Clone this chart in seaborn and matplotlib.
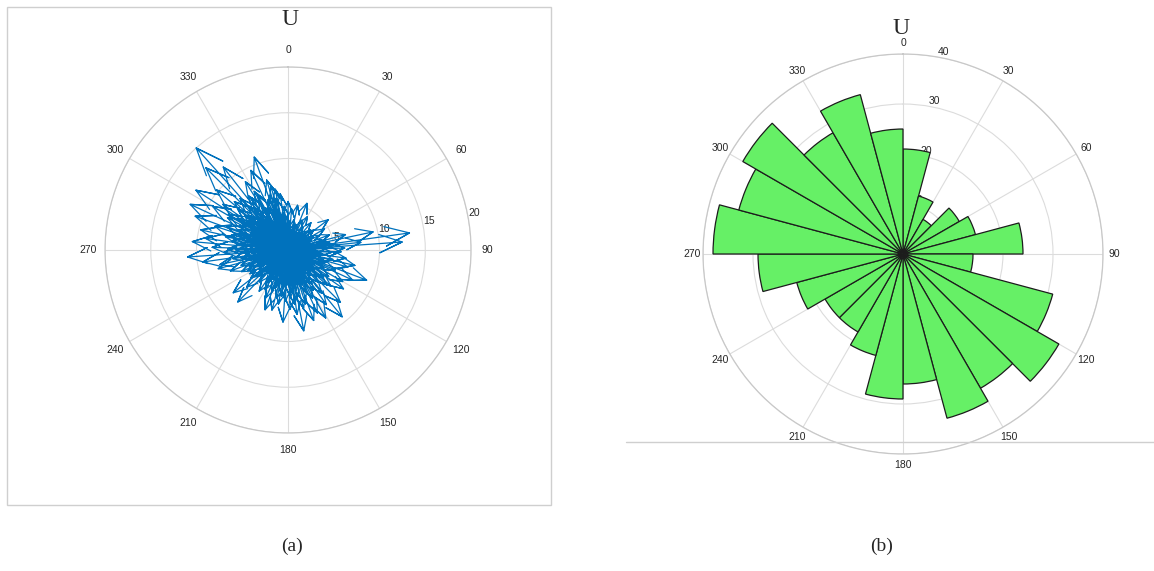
import numpy as np
import matplotlib
matplotlib.use("Agg")
import matplotlib.pyplot as plt
import seaborn as sns
from matplotlib.patches import Rectangle
from matplotlib.lines import Line2D

sns.set_style("white")
plt.rcParams['font.family'] = ['Liberation Sans', 'DejaVu Sans']

# (a) compass plot: direction (deg, clockwise from north) and magnitude of each arrow
arrow_dir = [318, 315, 340, 328, 343, 303, 295, 275, 266, 283, 232, 224, 201, 184, 169, 151,
             141, 111, 106, 22, 0, 53, 82, 86,
             310, 322, 300, 290, 305, 312, 330, 335, 348, 352, 345, 325, 298, 288, 278, 272,
             262, 258, 268, 285, 308, 318, 338, 355, 5, 12, 30, 40, 60, 70, 75, 78,
             84, 88, 92, 98, 103, 115, 120, 125, 130, 135, 145, 155, 160, 165, 172, 178,
             190, 195, 205, 210, 215, 228, 238, 245, 250, 255,
             2, 15, 25, 35, 48, 58, 65, 72, 80, 95, 100, 108, 118, 128, 138, 148,
             158, 163, 170, 175, 182, 188, 198, 203, 212, 220, 230, 236, 242, 248, 253, 260,
             265, 270, 276, 280, 287, 292, 296, 302, 306, 314, 320, 327, 332, 337, 342, 350,
             357, 8, 20, 44, 55, 85, 112, 133, 150, 167, 185, 208, 225, 251, 273, 299,
             316, 333, 348, 10, 90, 180, 270, 300, 120, 200, 240, 330]
arrow_mag = [15.0, 12.7, 10.8, 8.8, 8.0, 12.0, 11.8, 10.5, 11.0, 9.8, 7.6, 7.9, 7.0, 7.9, 9.0, 8.5,
             9.4, 9.2, 6.8, 5.5, 5.3, 5.5, 13.4, 12.5,
             10.2, 11.5, 9.5, 10.8, 8.7, 7.9, 7.4, 9.6, 6.8, 6.2, 7.2, 6.9, 7.5, 8.4, 9.1, 8.3,
             9.4, 7.6, 7.0, 6.4, 6.0, 6.5, 5.9, 4.8, 4.5, 5.0, 4.2, 3.9, 4.6, 4.8, 6.5, 9.5,
             8.0, 6.2, 5.8, 6.4, 7.5, 7.8, 6.9, 7.4, 6.1, 8.1, 7.3, 7.6, 8.2, 6.6, 7.1, 6.5,
             6.0, 6.8, 5.8, 5.0, 5.5, 6.1, 4.9, 5.6, 6.7, 7.9,
             3.1, 2.4, 3.6, 2.0, 3.3, 2.7, 3.8, 2.2, 4.1, 3.5, 2.6, 4.4, 3.0, 4.9, 3.7, 5.2,
             4.1, 3.0, 5.5, 4.6, 3.8, 5.1, 4.3, 3.2, 4.0, 3.4, 4.5, 2.8, 3.9, 4.6, 3.1, 5.2,
             4.0, 5.7, 4.4, 6.1, 5.0, 5.9, 4.2, 6.3, 5.1, 4.6, 5.4, 4.3, 5.2, 3.8, 4.9, 3.5,
             2.9, 2.0, 1.6, 1.8, 1.2, 1.9, 1.5, 2.2, 2.8, 2.4, 2.9, 2.1, 2.6, 2.3, 3.3, 3.6,
             3.0, 2.7, 2.2, 1.1, 1.0, 1.4, 1.8, 2.0, 1.7, 1.2, 1.5, 1.3]

# (a) the dense core of short arrows
core_dir = [3, 11, 18, 27, 33, 38, 46, 52, 57, 63, 68, 74, 79, 83, 87, 93,
            97, 102, 107, 113, 117, 123, 127, 132, 137, 142, 147, 153, 157, 162, 168, 173,
            177, 183, 187, 193, 197, 202, 207, 213, 217, 222, 227, 233, 237, 243, 247, 252,
            257, 261, 267, 271, 277, 282, 286, 291, 297, 301, 304, 309, 311, 317, 321, 324,
            329, 331, 336, 341, 344, 347, 353, 358, 289, 294, 307, 313, 319, 326, 339, 281,
            263, 274, 143, 156, 166, 176, 186, 126, 116, 105]
core_mag = [2.6, 3.4, 2.9, 2.1, 3.0, 2.5, 2.8, 3.6, 2.3, 3.1, 2.7, 3.9, 4.6, 5.1, 4.3, 4.8,
            3.9, 5.0, 4.1, 5.6, 4.4, 5.3, 3.6, 5.7, 4.8, 6.0, 4.4, 5.9, 4.9, 6.2, 4.5, 6.0,
            5.2, 5.6, 4.2, 5.4, 3.9, 4.8, 3.6, 4.4, 3.2, 4.7, 3.5, 5.1, 3.8, 4.9, 3.6, 5.4,
            4.5, 6.1, 5.0, 6.6, 5.3, 7.0, 5.6, 7.2, 5.9, 7.6, 5.4, 7.1, 5.8, 7.7, 6.0, 7.3,
            5.6, 6.8, 5.1, 6.3, 4.7, 5.8, 4.1, 3.7, 3.9, 4.5, 3.7, 4.3, 3.6, 4.1, 3.3, 3.5,
            3.0, 2.6, 3.2, 3.5, 3.9, 3.3, 3.8, 2.9, 3.1, 2.7]

# (a) very short arrows filling the centre blob
inner_dir = [0, 7, 14, 21, 29, 36, 43, 50, 58, 66, 73, 81, 89, 96, 104, 111,
             119, 126, 134, 141, 149, 156, 164, 171, 179, 186, 194, 201, 209, 216, 224, 231,
             239, 246, 254, 261, 269, 276, 284, 291, 299, 306, 314, 321, 329, 336, 344, 351,
             4, 32, 61, 92, 122, 152, 181, 212, 242, 272, 302, 332]
inner_mag = [2.3, 1.9, 2.6, 1.4, 2.1, 1.7, 2.4, 1.2, 1.9, 2.5, 1.6, 2.8, 3.0, 2.2, 3.1, 2.6,
             3.3, 2.4, 3.4, 2.9, 3.6, 2.7, 3.5, 3.1, 3.8, 2.8, 3.4, 2.6, 3.0, 2.5, 3.2, 2.3,
             3.1, 2.9, 3.6, 3.3, 4.0, 3.5, 4.2, 3.7, 4.4, 3.9, 4.3, 3.6, 4.0, 3.2, 3.3, 2.8,
             1.0, 1.3, 1.1, 1.6, 1.4, 1.8, 1.5, 1.2, 1.7, 2.0, 2.2, 1.9]

# (b) rose diagram: counts in 15 degree bins, starting at north, clockwise
rose_counts = [21, 12, 8, 13, 15, 24, 14, 31, 36, 31, 34, 26,
               29, 21, 18, 18, 22, 29, 38, 34, 37, 28, 33, 25]
bin_width = 15

theta_ticks = list(range(0, 360, 30))
theta_labels = [str(t) for t in theta_ticks]

blue = "#0072BD"
green = "#66F066"
grid_col = "#dcdcdc"
txt_col = "#262626"


def compass_path(dirs, mags):
    # each arrow: origin -> tip -> barb, tip -> other barb (MATLAB compass style)
    th, rr = [], []
    for d, m in zip(dirs, mags):
        a = np.deg2rad(d)
        ux, uy = np.sin(a), np.cos(a)
        px, py = np.cos(a), -np.sin(a)
        pts = [(0.0, 0.0), (m * ux, m * uy),
               (0.8 * m * ux + 0.08 * m * px, 0.8 * m * uy + 0.08 * m * py),
               (m * ux, m * uy),
               (0.8 * m * ux - 0.08 * m * px, 0.8 * m * uy - 0.08 * m * py)]
        for x, y in pts:
            th.append(np.arctan2(x, y))
            rr.append(np.hypot(x, y))
        th.append(np.nan)
        rr.append(np.nan)
    return th, rr


def style_polar(ax, rmax, rticks, rlabel_pos, pad):
    ax.set_theta_zero_location('N')
    ax.set_theta_direction(-1)
    ax.set_thetagrids(theta_ticks, theta_labels)
    ax.set_rlim(0, rmax)
    ax.set_rticks(rticks)
    ax.set_rlabel_position(rlabel_pos)
    ax.grid(True, color=grid_col, linewidth=0.8)
    ax.spines['polar'].set_color("#c8c8c8")
    ax.spines['polar'].set_linewidth(0.9)
    ax.tick_params(axis='x', pad=pad, labelsize=7.5, colors=txt_col)
    ax.tick_params(axis='y', labelsize=7.5, colors=txt_col)
    ax.set_axisbelow(True)


fig = plt.figure(figsize=(11.54, 5.71), dpi=100)
fig.patch.set_facecolor("white")

# panel (a)
ax1 = fig.add_axes([0.0910, 0.2417, 0.3172, 0.641], projection='polar')
style_polar(ax1, 20, [5, 10, 15, 20], 80, 1.5)
th, rr = compass_path(arrow_dir + core_dir + inner_dir, arrow_mag + core_mag + inner_mag)
ax1.plot(th, rr, color=blue, linewidth=0.9, zorder=3)

# panel (b)
ax2 = fig.add_axes([0.6092, 0.2049, 0.3466, 0.7005], projection='polar')
style_polar(ax2, 40, [10, 20, 30, 40], 10, -2.5)
centers = np.deg2rad(np.arange(len(rose_counts)) * bin_width + bin_width / 2)
ax2.bar(centers, rose_counts, width=np.deg2rad(bin_width), color=green,
        edgecolor="#1c1c1c", linewidth=0.9, zorder=3)

# frame around (a), rule under (b)
fig.patches.append(Rectangle((0.006, 0.1156), 0.4714, 0.872, transform=fig.transFigure,
                             fill=False, edgecolor="#cfcfcf", linewidth=1.0))
fig.lines.append(Line2D([0.5425, 1.0], [0.2259, 0.2259], transform=fig.transFigure,
                        color="#cfcfcf", linewidth=1.0))

serif = ['Liberation Serif', 'DejaVu Serif']
fig.text(0.2513, 0.966, "U", ha='center', va='center', fontsize=17, family=serif)
fig.text(0.7805, 0.950, "U", ha='center', va='center', fontsize=17, family=serif)
fig.text(0.2530, 0.043, "(a)", ha='center', va='center', fontsize=14, family=serif)
fig.text(0.7640, 0.043, "(b)", ha='center', va='center', fontsize=14, family=serif)

fig.savefig("out.png", dpi=100, facecolor="white")
